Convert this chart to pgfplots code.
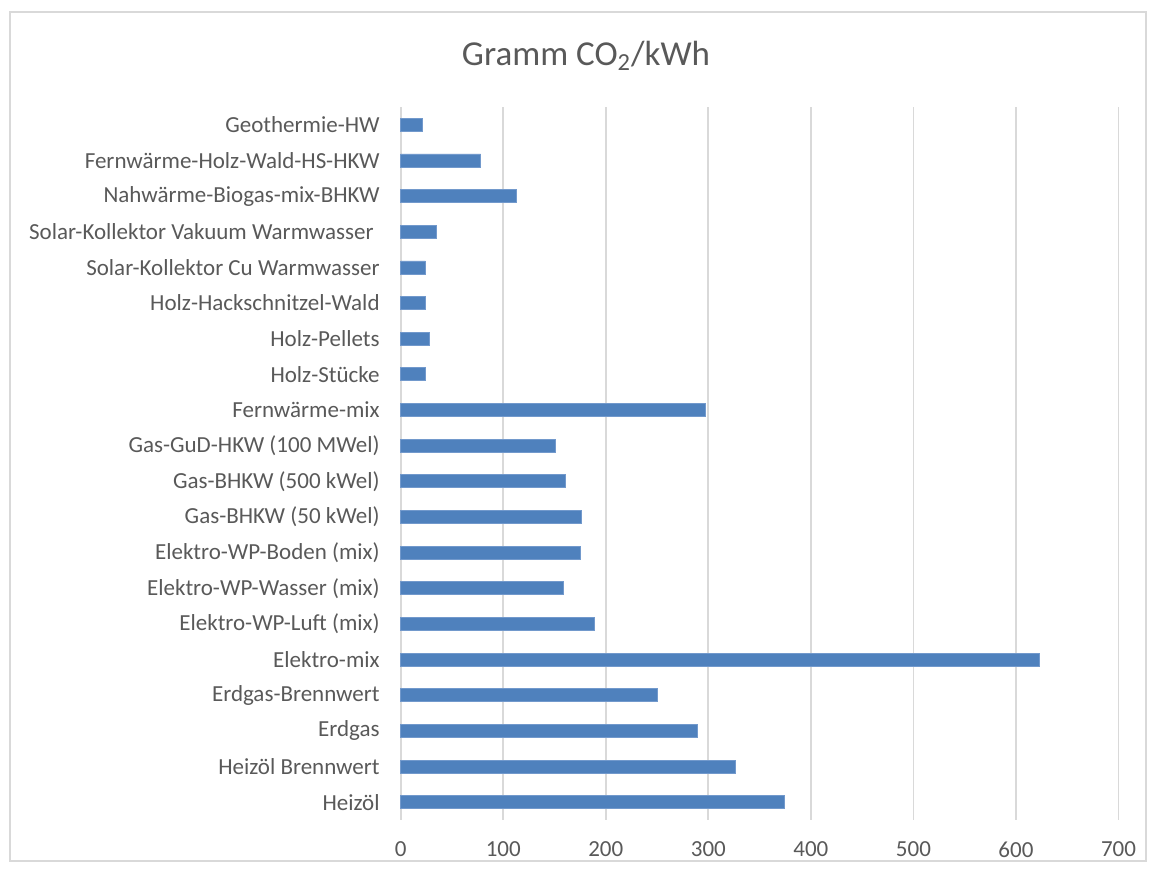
\documentclass[border=0pt]{standalone}
\usepackage{fontspec}
\setmainfont{Carlito}
\usepackage{pgfplots}
\pgfplotsset{compat=1.18}
\definecolor{barblue}{HTML}{4F81BD}
\definecolor{baredge}{HTML}{7299CC}
\definecolor{gridgray}{HTML}{D9D9D9}
\definecolor{textgray}{HTML}{595959}
\definecolor{framegray}{HTML}{D9D9D9}
\begin{document}
\begin{tikzpicture}
\path[use as bounding box] (0,0) rectangle (575pt,435pt);
\draw[framegray, line width=0.8pt] (5pt,4.5pt) rectangle (573pt,429pt);
\node[text=textgray, font=\fontsize{17.5}{20}\selectfont] at (293pt,407pt) {Gramm CO\textsubscript{2}/kWh};
\begin{axis}[
  at={(200.35pt,25pt)}, anchor=south west,
  scale only axis, width=358.9pt, height=356.5pt,
  xbar, bar width=6.5pt,
  xmin=0, xmax=700, ymin=-0.5, ymax=19.5,
  xtick={0,100,...,700},
  ytick={0,...,19},
  yticklabels={Heizöl, Heizöl Brennwert, Erdgas, Erdgas-Brennwert, Elektro-mix, Elektro-WP-Luft (mix), Elektro-WP-Wasser (mix), Elektro-WP-Boden (mix), Gas-BHKW (50 kWel), Gas-BHKW (500 kWel), Gas-GuD-HKW (100 MWel), Fernwärme-mix, Holz-Stücke, Holz-Pellets, Holz-Hackschnitzel-Wald, Solar-Kollektor Cu Warmwasser, {Solar-Kollektor Vakuum Warmwasser\hbox to 3pt{}}, Nahwärme-Biogas-mix-BHKW, Fernwärme-Holz-Wald-HS-HKW, Geothermie-HW},
  axis line style={draw=none},
  major tick length=0pt,
  xmajorgrids, major grid style={gridgray, line width=0.9pt},
  /pgf/number format/assume math mode=true,
  ticklabel style={text=textgray, font=\fontsize{11.5}{13.5}\selectfont},
  yticklabel style={xshift=-7pt},
  xticklabel style={yshift=-7.5pt},
  clip=false,
]
\addplot[fill=barblue, draw=baredge, line width=0.4pt] coordinates {
(374,0) (326,1) (289,2) (250,3) (623,4) (189,5) (159,6) (175,7) (176,8) (161,9)
(151,10) (297,11) (24,12) (28,13) (24,14) (24,15) (35,16) (113,17) (78,18) (21,19)
};
\end{axis}
\end{tikzpicture}
\end{document}
